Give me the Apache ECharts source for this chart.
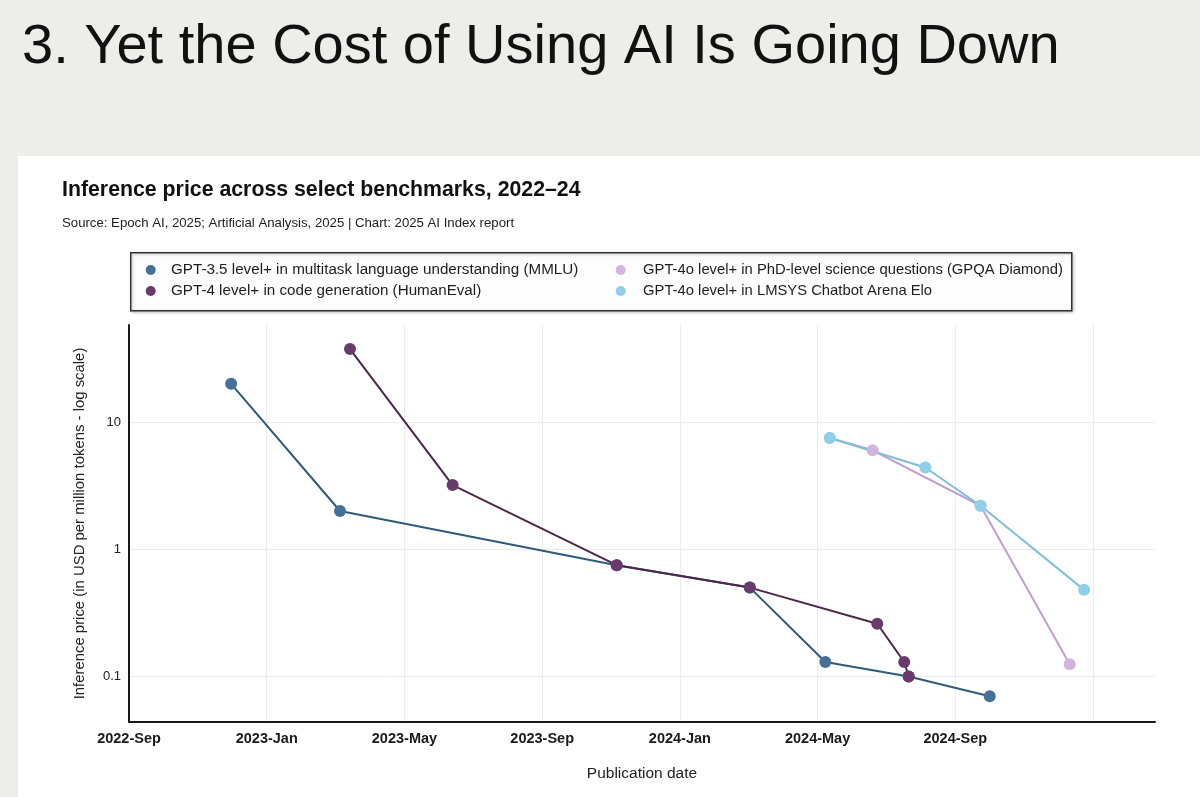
<!DOCTYPE html>
<html>
<head>
<meta charset="utf-8">
<title>Inference price across select benchmarks</title>
<script src="https://cdn.jsdelivr.net/npm/echarts@6/dist/echarts.min.js"></script>
<style>
  html, body { margin: 0; padding: 0; background: #ededea; }
  #chart { width: 1200px; height: 797px; }
</style>
</head>
<body>
<div id="chart"></div>
<script>
// data (prices in USD per million tokens)
var seriesNames = [
  'GPT-3.5 level+ in multitask language understanding (MMLU)',
  'GPT-4 level+ in code generation (HumanEval)',
  'GPT-4o level+ in PhD-level science questions (GPQA Diamond)',
  'GPT-4o level+ in LMSYS Chatbot Arena Elo'
];

var mmluDates = ['2022-11-30', '2023-03-05', '2023-11-06', '2024-03-02', '2024-05-08', '2024-07-21', '2024-10-01'];
var mmluPrices = [20, 2, 0.75, 0.5, 0.13, 0.1, 0.07];

var humanEvalDates = ['2023-03-14', '2023-06-13', '2023-11-06', '2024-03-02', '2024-06-23', '2024-07-17', '2024-07-21'];
var humanEvalPrices = [37.5, 3.2, 0.75, 0.5, 0.26, 0.13, 0.1];

var gpqaDates = ['2024-05-12', '2024-06-19', '2024-09-23', '2024-12-11'];
var gpqaPrices = [7.5, 6, 2.2, 0.125];

var lmsysDates = ['2024-05-12', '2024-08-05', '2024-09-23', '2024-12-24'];
var lmsysPrices = [7.5, 4.4, 2.2, 0.48];

// one label every 4 months, starting at 2022-Sep
var tickLabels = ['2022-Sep', '2023-Jan', '2023-May', '2023-Sep', '2024-Jan', '2024-May', '2024-Sep'];

var lineColors = ['#2e5b78', '#4b2749', '#bf9fd0', '#7dbfd9'];
var dotColors = ['#45709a', '#6a3a6c', '#d3b4df', '#8fcfea'];

// months since 2022-09-01
function monthIndex(s) {
  var p = s.split('-').map(Number);
  var dim = new Date(p[0], p[1], 0).getDate();
  return (p[0] - 2022) * 12 + (p[1] - 9) + (p[2] - 1) / dim;
}

function pairs(dates, prices) {
  return dates.map(function (d, i) { return [monthIndex(d), prices[i]]; });
}

var allData = [
  pairs(mmluDates, mmluPrices),
  pairs(humanEvalDates, humanEvalPrices),
  pairs(gpqaDates, gpqaPrices),
  pairs(lmsysDates, lmsysPrices)
];

var font = "'Liberation Sans', Arial, sans-serif";

var chart = echarts.init(document.getElementById('chart'));

var legendBase = {
  orient: 'vertical', top: 262.5, padding: 0,
  icon: 'circle', itemWidth: 10, itemHeight: 10, itemGap: 6
};

var option = {
  backgroundColor: '#ededea',
  animation: false,
  textStyle: { fontFamily: font },
  graphic: [
    {
      type: 'rect', left: 18, top: 156, z: -10,
      shape: { width: 1182, height: 641 },
      style: { fill: '#ffffff' }
    },
    {
      type: 'rect', left: 130, top: 252, z: -5,
      shape: { width: 941, height: 58 },
      style: {
        fill: '#fdfdfd', stroke: '#333333', lineWidth: 1.5,
        shadowBlur: 3, shadowColor: 'rgba(0,0,0,0.25)', shadowOffsetX: 1, shadowOffsetY: 1
      }
    }
  ],
  title: [
    {
      text: '3. Yet the Cost of Using AI Is Going Down',
      left: 22, top: 20, padding: 0,
      textStyle: { fontFamily: font, fontSize: 56, fontWeight: 'normal', color: '#111111' }
    },
    {
      text: 'Inference price across select benchmarks, 2022\u201324',
      left: 62, top: 179.5, padding: 0,
      textStyle: { fontFamily: font, fontSize: 21.3, fontWeight: 'bold', color: '#111111' }
    },
    {
      text: 'Source: Epoch AI, 2025; Artificial Analysis, 2025 | Chart: 2025 AI Index report',
      left: 62, top: 216.5, padding: 0,
      textStyle: { fontFamily: font, fontSize: 13.2, fontWeight: 'normal', color: '#222222' }
    }
  ],
  legend: [
    Object.assign({}, legendBase, {
      data: [seriesNames[0], seriesNames[1]],
      left: 145.7,
      textStyle: { fontFamily: font, fontSize: 15.2, color: '#1e1e1e', padding: [0, 0, 0, 10.3] }
    }),
    Object.assign({}, legendBase, {
      data: [seriesNames[2], seriesNames[3]],
      left: 615.7,
      textStyle: { fontFamily: font, fontSize: 14.8, color: '#1e1e1e', padding: [0, 0, 0, 12.3] }
    })
  ],
  grid: { left: 129, right: 45, top: 325, bottom: 75, containLabel: false },
  xAxis: {
    type: 'value',
    min: 0, max: 29.8, interval: 4,
    name: 'Publication date',
    nameLocation: 'middle', nameGap: 44,
    nameTextStyle: { fontFamily: font, fontSize: 15.5, color: '#222222' },
    axisLine: { show: true, lineStyle: { color: '#1a1a1a', width: 2 } },
    axisTick: { show: false },
    axisLabel: {
      margin: 9, fontFamily: font, fontSize: 14.5, color: '#1a1a1a', fontWeight: 'bold',
      showMaxLabel: false,
      formatter: function (v) {
        var i = Math.round(v / 4);
        if (Math.abs(v - i * 4) > 1e-6 || i >= tickLabels.length) return '';
        return tickLabels[i];
      }
    },
    splitLine: { show: true, showMinLine: false, showMaxLine: false, lineStyle: { color: '#ececec', width: 1 } }
  },
  yAxis: {
    type: 'log', logBase: 10,
    min: 0.0439, max: 58,
    name: 'Inference price (in USD per million tokens - log scale)',
    nameLocation: 'middle', nameGap: 42,
    nameTextStyle: { fontFamily: font, fontSize: 14.9, color: '#222222' },
    axisLine: { show: true, lineStyle: { color: '#1a1a1a', width: 2 } },
    axisTick: { show: false },
    axisLabel: {
      margin: 8, fontFamily: font, fontSize: 13, color: '#222222',
      showMinLabel: false, showMaxLabel: false
    },
    splitLine: { show: true, showMinLine: false, showMaxLine: false, lineStyle: { color: '#ececec', width: 1 } }
  },
  series: allData.map(function (d, i) {
    return {
      name: seriesNames[i],
      type: 'line',
      data: d,
      symbol: 'circle',
      symbolSize: 12,
      showAllSymbol: true,
      lineStyle: { color: lineColors[i], width: 2 },
      itemStyle: { color: dotColors[i] },
      emphasis: { disabled: true }
    };
  })
};

chart.setOption(option);
</script>
</body>
</html>
